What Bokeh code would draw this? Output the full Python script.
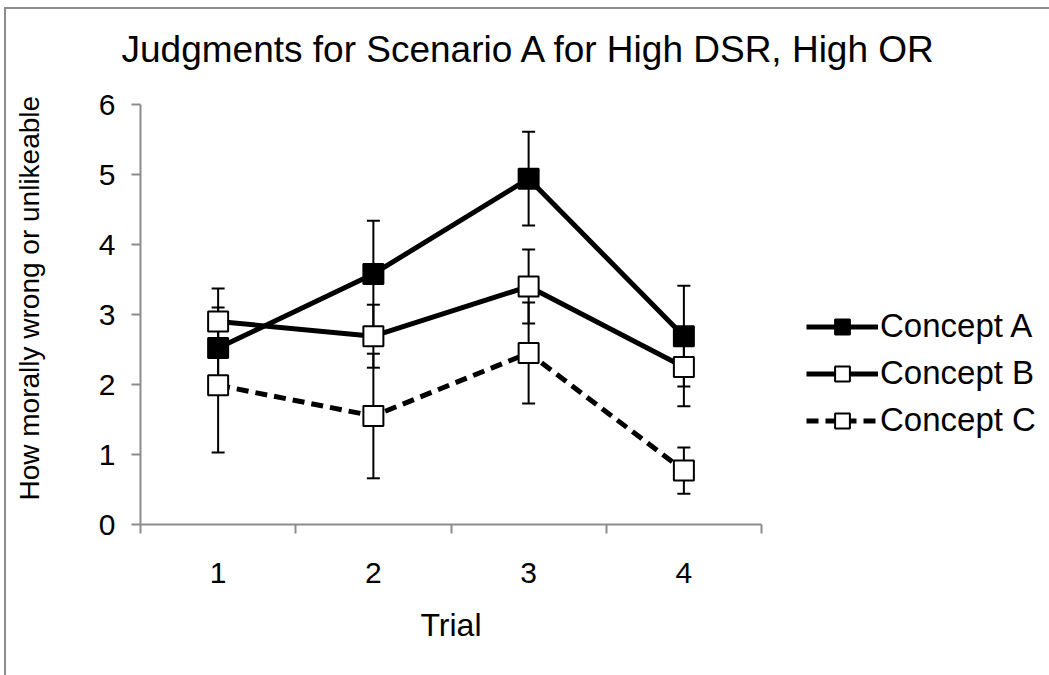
from bokeh.plotting import figure
from bokeh.models import (ColumnDataSource, Whisker, TeeHead, FixedTicker, Legend, LegendItem,
                          Title, LinearAxis)
from bokeh.embed import file_html
from bokeh.resources import INLINE

trials = [1, 2, 3, 4]
tick_labels = ["1", "2", "3", "4"]
series_names = ["Concept A", "Concept B", "Concept C"]
concept_a = [2.52, 3.58, 4.94, 2.69]
concept_a_err = [0.58, 0.76, 0.67, 0.72]
concept_b = [2.90, 2.69, 3.40, 2.25]
concept_b_err = [0.47, 0.45, 0.53, 0.56]
concept_c = [1.99, 1.55, 2.45, 0.77]
concept_c_err = [0.96, 0.89, 0.72, 0.33]

FONT = "Liberation Sans"
GRAY = "#8c8c8c"

p = figure(width=1043, height=666, output_backend="svg", toolbar_location=None,
           x_range=(0.5, 4.5), y_range=(0, 6),
           frame_width=621, frame_height=420,
           min_border_left=134, min_border_right=288, min_border_top=95, min_border_bottom=151)
p.background_fill_color = "white"
p.border_fill_color = "white"
p.outline_line_color = None
p.grid.grid_line_color = None
p.styles = {"border-top": "2px solid #8c8c8c", "border-left": "2px solid #8c8c8c",
            "margin-left": "4px", "margin-top": "7px"}
p.title.text = ""

xa = p.below[0]
ya = p.left[0]


def spacer_axis(gap, at):
    # invisible axis used only as a fixed-size spacer between the frame and a title
    return LinearAxis(ticker=FixedTicker(ticks=[at], minor_ticks=[]),
                      major_label_overrides={at: ""},
                      major_tick_out=gap, major_tick_in=0, minor_tick_out=0, minor_tick_in=0,
                      major_tick_line_color=None, minor_tick_line_color=None,
                      axis_line_color=None, major_label_standoff=0,
                      major_label_text_alpha=0, major_label_text_font_size="1px")


# axes
xa.ticker = FixedTicker(ticks=trials, minor_ticks=[0.5, 1.5, 2.5, 3.5, 4.5])
xa.major_label_overrides = {t: l for t, l in zip(trials, tick_labels)}
xa.major_tick_out = 0
xa.major_tick_in = 0
xa.minor_tick_out = 9
xa.minor_tick_in = 0
xa.minor_tick_line_color = GRAY
xa.minor_tick_line_width = 2
xa.axis_line_color = GRAY
xa.axis_line_width = 2
xa.major_label_text_font = FONT
xa.major_label_text_font_size = "30px"
xa.major_label_text_color = "black"
xa.major_label_standoff = 29
xa.axis_label = "Trial"
xa.axis_label_text_font = FONT
xa.axis_label_text_font_size = "32px"
xa.axis_label_text_font_style = "normal"
xa.axis_label_text_color = "black"
xa.axis_label_standoff = 21

ya.ticker = FixedTicker(ticks=[0, 1, 2, 3, 4, 5, 6], minor_ticks=[])
ya.major_tick_out = 9
ya.major_tick_in = 0
ya.major_tick_line_color = GRAY
ya.major_tick_line_width = 2
ya.axis_line_color = GRAY
ya.axis_line_width = 2
ya.major_label_text_font = FONT
ya.major_label_text_font_size = "30px"
ya.major_label_text_color = "black"
ya.major_label_standoff = 16

# main title (above a spacer)
p.add_layout(spacer_axis(35, 0.5), "above")
main_title = Title(text="Judgments for Scenario A for High DSR, High OR", align="left",
                   offset=-19, standoff=0, text_font=FONT, text_font_size="37px",
                   text_font_style="normal", text_color="black")
p.add_layout(main_title, "above")

# y axis title (left of a spacer)
p.add_layout(spacer_axis(51, 0), "left")
ytitle = Title(text="How morally wrong or unlikeable", align="left", offset=24,
               text_font=FONT, text_font_size="28px", text_font_style="normal",
               text_color="black", standoff=0)
p.add_layout(ytitle, "left")

series = [
    (concept_a, concept_a_err, "black", "solid"),
    (concept_b, concept_b_err, "white", "solid"),
    (concept_c, concept_c_err, "white", "12 7"),
]

sources = []
for vals, errs, fill, dash in series:
    src = ColumnDataSource(dict(
        x=trials, y=vals,
        lower=[v - e for v, e in zip(vals, errs)],
        upper=[v + e for v, e in zip(vals, errs)]))
    sources.append(src)
    w = Whisker(base="x", upper="upper", lower="lower", source=src,
                line_color="black", line_width=2,
                upper_head=TeeHead(size=13, line_width=2, line_color="black"),
                lower_head=TeeHead(size=13, line_width=2, line_color="black"))
    p.add_layout(w)

items = []
for (vals, errs, fill, dash), src, name in zip(series, sources, series_names):
    ln = p.line("x", "y", source=src, line_color="black", line_width=5, line_dash=dash)
    mk = p.scatter("x", "y", source=src, marker="square", size=20,
                   fill_color=fill, line_color="black", line_width=2)
    items.append(LegendItem(label=name, renderers=[ln, mk]))

legend = Legend(items=items, location=(45, 85), orientation="vertical",
                glyph_width=72, glyph_height=37, label_height=37, spacing=9,
                label_standoff=2, padding=0, margin=0,
                label_text_font=FONT, label_text_font_size="33px",
                label_text_color="black",
                border_line_color=None, background_fill_alpha=0)
p.add_layout(legend, "right")

open("out.html", "w").write(file_html(p, INLINE))
